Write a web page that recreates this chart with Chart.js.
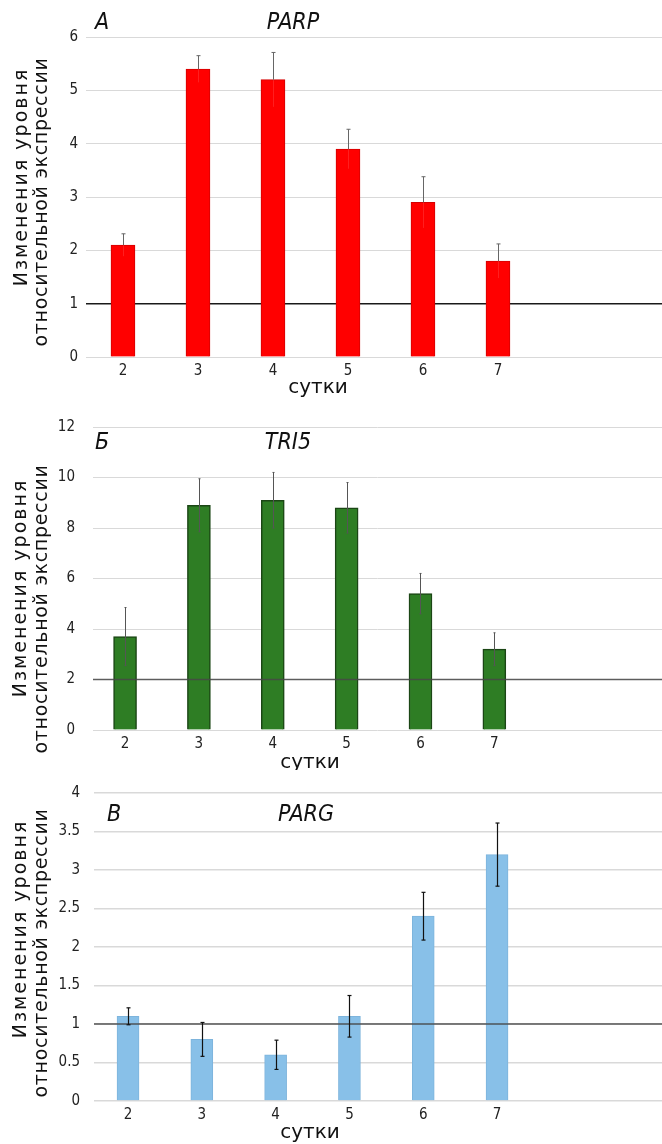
<!DOCTYPE html>
<html><head><meta charset="utf-8">
<script src="https://cdn.jsdelivr.net/npm/chart.js@4"></script>
<style>
body{margin:0;background:#fff;width:662px;height:1144px;position:relative;overflow:hidden}
canvas{position:absolute;left:0}
</style></head>
<body>
<canvas id="cA" width="662" height="400" style="top:0px"></canvas>
<canvas id="cB" width="662" height="370" style="top:400px"></canvas>
<canvas id="cC" width="662" height="374" style="top:770px"></canvas>
<script>
const days = ['2','3','4','5','6','7'];
const parpValues = [2.1, 5.4, 5.2, 3.9, 2.9, 1.8];
const parpErrors = [0.21, 0.25, 0.51, 0.37, 0.48, 0.32];
const tri5Values = [3.7, 8.9, 9.1, 8.8, 5.4, 3.2];
const tri5Errors = [1.15, 1.05, 1.1, 1.0, 0.8, 0.65];
const pargValues = [1.1, 0.8, 0.6, 1.1, 2.4, 3.2];
const pargErrors = [0.11, 0.22, 0.19, 0.27, 0.31, 0.41];
const parpTicks = [0, 1, 2, 3, 4, 5, 6];
const tri5Ticks = [0, 2, 4, 6, 8, 10, 12];
const pargTicks = [0, 0.5, 1, 1.5, 2, 2.5, 3, 3.5, 4];
const yTitle = ['Изменения уровня', 'относительной экспрессии'];
const xTitle = 'сутки';

const TICK_FONT = '"DejaVu Sans Condensed", "Liberation Sans Narrow", "DejaVu Sans", sans-serif';

const decor = {
  id: 'decor',
  beforeDatasetsDraw(chart, args, o) { if (!o.refOnTop) drawRef(chart, o); },
  afterDatasetsDraw(chart, args, o) {
    if (o.refOnTop) drawRef(chart, o);
    drawErrors(chart, o);
  },
  afterDraw(chart, args, o) { drawTexts(chart, o); }
};
function drawRef(chart, o) {
  const ctx = chart.ctx, a = chart.chartArea, y = chart.scales.y.getPixelForValue(o.ref);
  ctx.save();
  ctx.strokeStyle = o.refColor; ctx.lineWidth = o.refWidth;
  ctx.beginPath(); ctx.moveTo(a.left, y); ctx.lineTo(a.right, y); ctx.stroke();
  ctx.restore();
}
function drawErrors(chart, o) {
  const ctx = chart.ctx, ys = chart.scales.y, bars = chart.getDatasetMeta(0).data;
  ctx.save();
  o.values.forEach((v, i) => {
    const x = Math.round(bars[i].x) + 0.5;
    const yv = ys.getPixelForValue(v);
    const yt = ys.getPixelForValue(v + o.errors[i]);
    const yb = ys.getPixelForValue(v - o.errors[i]);
    ctx.lineWidth = o.errWidth;
    if (o.errLow) {
      ctx.strokeStyle = o.errLow;
      ctx.beginPath(); ctx.moveTo(x, yv); ctx.lineTo(x, yb); ctx.stroke();
      ctx.strokeStyle = o.errColor;
      ctx.beginPath(); ctx.moveTo(x, yv); ctx.lineTo(x, yt); ctx.stroke();
      ctx.beginPath(); ctx.moveTo(x - o.cap, yt); ctx.lineTo(x + o.cap, yt); ctx.stroke();
    } else {
      ctx.strokeStyle = o.errColor;
      ctx.beginPath(); ctx.moveTo(x, yb); ctx.lineTo(x, yt); ctx.stroke();
      ctx.beginPath(); ctx.moveTo(x - o.cap, yt); ctx.lineTo(x + o.cap, yt); ctx.stroke();
      ctx.beginPath(); ctx.moveTo(x - o.cap, yb); ctx.lineTo(x + o.cap, yb); ctx.stroke();
    }
  });
  ctx.restore();
}
function drawTexts(chart, o) {
  const ctx = chart.ctx;
  ctx.save();
  ctx.fillStyle = '#111';
  ctx.textBaseline = 'middle';
  ctx.font = 'italic 23px "DejaVu Sans Condensed", "Liberation Sans Narrow", "DejaVu Sans", sans-serif';
  ctx.textAlign = 'left';
  ctx.fillText(o.letter, o.letterX, o.titleY);
  ctx.textAlign = 'center';
  ctx.fillText(o.gene, o.geneX, o.titleY);
  ctx.font = '20px "DejaVu Sans", sans-serif';
  ctx.fillText(xTitle, o.xTitleX, o.xTitleY);
  ctx.font = '19px "DejaVu Sans", sans-serif';
  const spacing = ['2px', '0.7px'];
  yTitle.forEach((t, k) => {
    ctx.save();
    ctx.letterSpacing = spacing[k];
    ctx.translate(o.yTitleX[k], o.yTitleY[k]);
    ctx.rotate(-Math.PI / 2);
    ctx.fillText(t, 0, 0);
    ctx.restore();
  });
  ctx.restore();
}

function makeChart(id, p) {
  return new Chart(document.getElementById(id), {
    type: 'bar',
    data: {
      datasets: [{
        data: days.map((d, i) => ({ x: Number(d), y: p.values[i] })),
        backgroundColor: p.fill,
        borderColor: p.border,
        borderWidth: p.borderWidth,
        barThickness: p.barW
      }]
    },
    options: {
      responsive: false,
      animation: false,
      events: [],
      layout: { padding: { top: p.top, left: 0, right: 0, bottom: 0 } },
      plugins: {
        legend: { display: false },
        tooltip: { enabled: false },
        decor: p.decor
      },
      scales: {
        x: {
          type: 'linear',
          offset: false,
          min: p.xMin, max: p.xMax,
          grid: { display: false, drawTicks: false },
          border: { display: false },
          afterBuildTicks: s => { s.ticks = days.map(d => ({ value: Number(d) })); },
          afterFit: s => { s.height = p.xH; },
          ticks: {
            callback: v => String(v),
            color: '#222',
            padding: p.xPad,
            font: { family: TICK_FONT, size: 15 }
          }
        },
        y: {
          min: p.ticks[0], max: p.ticks[p.ticks.length - 1],
          afterBuildTicks: s => { s.ticks = p.ticks.map(v => ({ value: v })); },
          afterFit: s => { s.width = p.left; },
          grid: { color: '#d9d9d9', lineWidth: p.gridW, drawTicks: false },
          border: { display: false },
          ticks: {
            callback: v => String(v),
            color: '#222',
            padding: p.yPad,
            font: { family: TICK_FONT, size: 15 }
          }
        }
      }
    },
    plugins: [decor]
  });
}

makeChart('cA', {
  values: parpValues, ticks: parpTicks,
  fill: '#ff0000', border: '#d40000', borderWidth: 1, barW: 24,
  top: 37, xH: 43, left: 86, xMin: 1.507, xMax: 9.187, xPad: 5, yPad: 8, gridW: 1,
  decor: {
    values: parpValues, errors: parpErrors, ref: 1, refOnTop: false, refColor: '#1a1a1a', refWidth: 1.5,
    errColor: '#666', errLow: 'rgba(255,255,255,0.12)', errWidth: 1, cap: 2,
    letter: 'А', gene: 'PARP', letterX: 95, geneX: 293, titleY: 23,
    xTitleX: 318, xTitleY: 388, yTitleX: [22, 42], yTitleY: [177, 202]
  }
});
makeChart('cB', {
  values: tri5Values, ticks: tri5Ticks,
  fill: '#2e7d24', border: '#1b4615', borderWidth: 1.5, barW: 23,
  top: 23, xH: 40, left: 93, xMin: 1.566, xMax: 9.27, xPad: 5, yPad: 18, gridW: 1,
  decor: {
    values: tri5Values, errors: tri5Errors, ref: 2, refOnTop: true, refColor: 'rgba(70,70,70,0.85)', refWidth: 1.5,
    errColor: '#555', errLow: null, errWidth: 1, cap: 1,
    letter: 'Б', gene: 'TRI5', letterX: 95, geneX: 288, titleY: 43,
    xTitleX: 310, xTitleY: 363, yTitleX: [21, 42], yTitleY: [188, 209]
  }
});
makeChart('cC', {
  values: pargValues, ticks: pargTicks,
  fill: '#88c0e8', border: '#7db4dc', borderWidth: 1, barW: 22,
  top: 22, xH: 43, left: 94, xMin: 1.539, xMax: 9.235, xPad: 5, yPad: 14, gridW: 1.5,
  decor: {
    values: pargValues, errors: pargErrors, ref: 1, refOnTop: true, refColor: 'rgba(70,70,70,0.9)', refWidth: 1.5,
    errColor: '#111', errLow: null, errWidth: 1.2, cap: 2,
    letter: 'В', gene: 'PARG', letterX: 107, geneX: 306, titleY: 45,
    xTitleX: 310, xTitleY: 363, yTitleX: [21, 42], yTitleY: [159, 183]
  }
});
</script>
</body></html>
